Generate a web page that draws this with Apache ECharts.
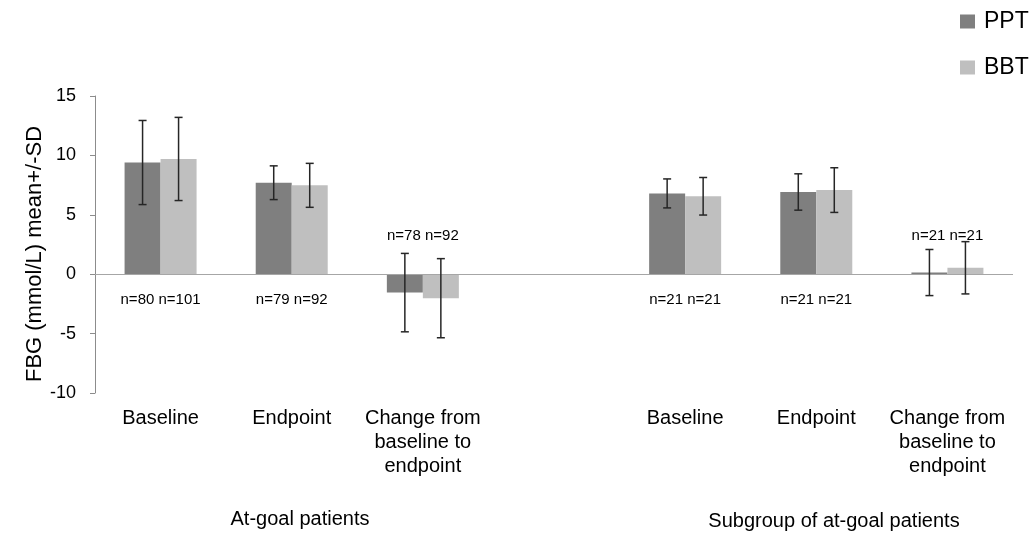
<!DOCTYPE html>
<html>
<head>
<meta charset="utf-8">
<script src="https://cdn.jsdelivr.net/npm/echarts@6/dist/echarts.min.js"></script>
<style>
html,body{margin:0;padding:0;background:#fff;}
#chart{width:1035px;height:533px;}
</style>
</head>
<body>
<div id="chart"></div>
<script>
// ---- data ----
const categories = ['Baseline', 'Endpoint', 'Change from\nbaseline to\nendpoint', '', 'Baseline', 'Endpoint', 'Change from\nbaseline to\nendpoint'];
const seriesNames = ['PPT', 'BBT'];
const pptMean = [9.4, 7.7, -1.55, null, 6.8, 6.92, 0.14];
const pptSD   = [3.54, 1.42, 3.3, null, 1.22, 1.53, 1.94];
const bbtMean = [9.7, 7.48, -2.02, null, 6.56, 7.08, 0.54];
const bbtSD   = [3.5, 1.85, 3.33, null, 1.58, 1.88, 2.2];
const pptN = [80, 79, 78, null, 21, 21, 21];
const bbtN = [101, 92, 92, null, 21, 21, 21];
const yMin = -10, yMax = 15, yStep = 5;
const groupLabels = ['At-goal patients', 'Subgroup of at-goal patients'];
const yAxisTitle = 'FBG (mmol/L) mean+/-SD';

// ---- styles ----
const FONT = '"Liberation Sans", Arial, sans-serif';
const C_PPT = '#7f7f7f', C_BBT = '#bfbfbf', C_AXIS = '#8c8c8c';
const BAR_W = 36;

function errItem(sign) {
  return function (params, api) {
    const x = api.value(0), m = api.value(1), sd = api.value(2);
    const t = api.coord([x, m + sd]);
    const b = api.coord([x, m - sd]);
    const cx = t[0] + sign * BAR_W / 2;
    const cap = 4;
    const st = { stroke: '#262626', lineWidth: 1.5 };
    return {
      type: 'group',
      children: [
        { type: 'line', shape: { x1: cx, y1: t[1], x2: cx, y2: b[1] }, style: st },
        { type: 'line', shape: { x1: cx - cap, y1: t[1], x2: cx + cap, y2: t[1] }, style: st },
        { type: 'line', shape: { x1: cx - cap, y1: b[1], x2: cx + cap, y2: b[1] }, style: st }
      ]
    };
  };
}

const errPPT = [], errBBT = [], nData = [];
categories.forEach((c, i) => {
  if (pptMean[i] != null) errPPT.push([i, pptMean[i], pptSD[i]]);
  if (bbtMean[i] != null) errBBT.push([i, bbtMean[i], bbtSD[i]]);
  if (pptN[i] != null) nData.push([i, 0, pptN[i], bbtN[i], Math.max(pptMean[i], bbtMean[i])]);
});

const chart = echarts.init(document.getElementById('chart'), null, { renderer: 'canvas' });
chart.setOption({
  animation: false,
  textStyle: { fontFamily: FONT },
  grid: { left: 95, right: 22, top: 96, bottom: 140 },
  legend: {
    data: seriesNames,
    orient: 'vertical',
    left: 960,
    top: 10,
    padding: 0,
    icon: 'rect',
    itemWidth: 15,
    itemHeight: 14,
    itemGap: 23,
    textStyle: { fontSize: 23, lineHeight: 22, color: '#000', fontFamily: FONT, padding: [0, 0, 0, 4] }
  },
  xAxis: {
    type: 'category',
    data: categories,
    axisLine: { show: false, onZero: false },
    axisTick: { show: false },
    splitLine: { show: false },
    axisLabel: { interval: 0, fontSize: 20, lineHeight: 24, color: '#000', margin: 13, fontFamily: FONT }
  },
  yAxis: {
    type: 'value',
    min: yMin, max: yMax, interval: yStep,
    axisLine: { show: true, lineStyle: { color: C_AXIS, width: 1 } },
    axisTick: { show: true, length: 5, lineStyle: { color: C_AXIS } },
    splitLine: { show: false },
    axisLabel: { fontSize: 18, color: '#000', margin: 19, fontFamily: FONT }
  },
  series: [
    {
      name: 'PPT', type: 'bar', data: pptMean.map(v => v == null ? '-' : v),
      barWidth: BAR_W, barGap: '0%', itemStyle: { color: C_PPT },
      markLine: {
        silent: true, symbol: 'none', label: { show: false },
        lineStyle: { color: '#a6a6a6', type: 'solid', width: 1.2 },
        data: [{ yAxis: 0 }]
      }
    },
    {
      name: 'BBT', type: 'bar', data: bbtMean.map(v => v == null ? '-' : v),
      barWidth: BAR_W, barGap: '0%', itemStyle: { color: C_BBT }
    },
    { type: 'custom', renderItem: errItem(-1), data: errPPT, z: 5, encode: { x: 0, y: 1 } },
    { type: 'custom', renderItem: errItem(1), data: errBBT, z: 5, encode: { x: 0, y: 1 } },
    {
      type: 'custom', z: 6, data: nData, encode: { x: 0, y: 1 },
      renderItem: function (params, api) {
        const i = api.value(0);
        const p = api.coord([i, 0]);
        const above = api.value(4) < 2;
        return {
          type: 'text',
          style: {
            x: p[0], y: above ? p[1] - 38 : p[1] + 26,
            text: 'n=' + api.value(2) + ' n=' + api.value(3),
            fontSize: 15, fontFamily: FONT, fill: '#000',
            textAlign: 'center', textVerticalAlign: 'middle'
          }
        };
      }
    }
  ],
  graphic: [
    { type: 'text', x: 35, y: 254, rotation: Math.PI / 2,
      style: { text: yAxisTitle, fontSize: 22, fontFamily: FONT, fill: '#000', textAlign: 'center', textVerticalAlign: 'middle' } },
    { type: 'text', x: 300, y: 519,
      style: { text: groupLabels[0], fontSize: 20, fontFamily: FONT, fill: '#000', textAlign: 'center', textVerticalAlign: 'middle' } },
    { type: 'text', x: 834, y: 521,
      style: { text: groupLabels[1], fontSize: 20, fontFamily: FONT, fill: '#000', textAlign: 'center', textVerticalAlign: 'middle' } }
  ]
});
</script>
</body>
</html>
